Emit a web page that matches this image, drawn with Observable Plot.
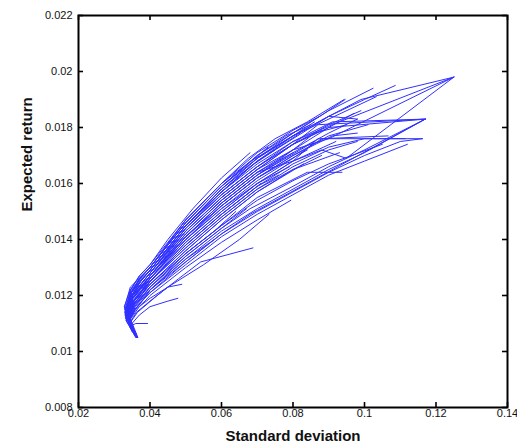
<!DOCTYPE html>
<html><head><meta charset="utf-8">
<script src="https://cdn.jsdelivr.net/npm/d3@7"></script>
<script src="https://cdn.jsdelivr.net/npm/@observablehq/plot@0.6"></script>
<style>body{margin:0;background:#fff}</style>
</head><body><div id="chart"></div>
<script>
const xTicks = [0.02, 0.04, 0.06, 0.08, 0.10, 0.12, 0.14];
const xTickLabels = ["0.02", "0.04", "0.06", "0.08", "0.1", "0.12", "0.14"];
const yTicks = [0.008, 0.010, 0.012, 0.014, 0.016, 0.018, 0.020, 0.022];
const yTickLabels = ["0.008", "0.01", "0.012", "0.014", "0.016", "0.018", "0.02", "0.022"];
const xLabel = "Standard deviation";
const yLabel = "Expected return";

// frontiers: [standard deviation, expected return]
const f01 = [[0.0352,0.0107],[0.0328,0.0116],[0.0345,0.0122],[0.0370,0.0127],[0.040,0.0131],[0.045,0.0140],[0.052,0.0151],[0.060,0.0162],[0.068,0.0171]];
const f02 = [[0.0356,0.0106],[0.0330,0.0115],[0.0346,0.0121],[0.0370,0.0126],[0.040,0.0130],[0.050,0.0147],[0.060,0.0160],[0.0675,0.0169],[0.075,0.0176],[0.084,0.0182],[0.0943,0.0190]];
const f03 = [[0.0360,0.0105],[0.0331,0.0112],[0.0347,0.0121],[0.0372,0.0126],[0.040,0.0130],[0.050,0.0146],[0.060,0.0159],[0.070,0.0170],[0.080,0.0178],[0.090,0.0186],[0.1024,0.0194]];
const f04 = [[0.0350,0.0108],[0.0329,0.0114],[0.0348,0.0121],[0.0372,0.0125],[0.040,0.0129],[0.050,0.0145],[0.060,0.0158],[0.070,0.0169],[0.080,0.0177],[0.090,0.0184],[0.100,0.0190],[0.1086,0.0195]];
const f05 = [[0.0362,0.0105],[0.0334,0.0111],[0.0348,0.0120],[0.0373,0.0125],[0.040,0.0129],[0.050,0.0145],[0.060,0.0157],[0.070,0.0168],[0.080,0.0176],[0.090,0.0184],[0.099,0.0190],[0.125,0.0198]];
const f06 = [[0.0348,0.0108],[0.0332,0.0115],[0.0349,0.0120],[0.0374,0.0124],[0.040,0.0128],[0.050,0.0144],[0.060,0.0156],[0.070,0.0166],[0.080,0.0175],[0.091,0.0181],[0.125,0.0198]];
const f07 = [[0.0358,0.0106],[0.0336,0.0114],[0.0350,0.0120],[0.0375,0.0124],[0.040,0.0128],[0.050,0.0143],[0.060,0.0155],[0.070,0.0165],[0.080,0.0172],[0.090,0.0176],[0.125,0.0198]];
const f08 = [[0.0352,0.0107],[0.0333,0.0111],[0.0350,0.0119],[0.0376,0.0123],[0.040,0.0127],[0.050,0.0142],[0.060,0.0154],[0.070,0.0164],[0.080,0.0168],[0.088,0.0172],[0.0949,0.0169],[0.125,0.0198]];
const f09 = [[0.0365,0.0105],[0.0337,0.0113],[0.0351,0.0119],[0.0376,0.0123],[0.040,0.0127],[0.050,0.0141],[0.060,0.0153],[0.070,0.0163],[0.080,0.0171],[0.090,0.0178],[0.098,0.0183]];
const f10 = [[0.0350,0.0108],[0.0334,0.0116],[0.0351,0.0120],[0.0377,0.0123],[0.040,0.0127],[0.050,0.0143],[0.060,0.0155],[0.070,0.0165],[0.080,0.0174],[0.087,0.0181],[0.117,0.0183]];
const f11 = [[0.0355,0.0107],[0.0335,0.0113],[0.0350,0.0120],[0.0374,0.0125],[0.040,0.0129],[0.050,0.0144],[0.060,0.0157],[0.070,0.0167],[0.080,0.0175],[0.091,0.0182],[0.117,0.0183]];
const f12 = [[0.0360,0.0106],[0.0337,0.0112],[0.0352,0.0118],[0.0378,0.0122],[0.040,0.0126],[0.050,0.0140],[0.060,0.0151],[0.070,0.0161],[0.080,0.0169],[0.088,0.0176],[0.1066,0.0177]];
const f13 = [[0.0354,0.0107],[0.0336,0.0114],[0.0352,0.0119],[0.0378,0.0122],[0.040,0.0126],[0.050,0.0139],[0.060,0.0150],[0.070,0.0160],[0.080,0.0168],[0.087,0.0176],[0.1162,0.0176]];
const f14 = [[0.0362,0.0106],[0.0338,0.0112],[0.0353,0.0118],[0.0380,0.0122],[0.040,0.0125],[0.050,0.0138],[0.060,0.0149],[0.070,0.0159],[0.080,0.0167],[0.090,0.0173],[0.100,0.0176],[0.1114,0.0176]];
const f15 = [[0.0350,0.0108],[0.0339,0.0114],[0.0354,0.0118],[0.0380,0.0121],[0.040,0.0125],[0.050,0.0137],[0.060,0.0148],[0.070,0.0158],[0.080,0.0166],[0.090,0.0172],[0.098,0.0175]];
const f16 = [[0.0358,0.0106],[0.0339,0.0111],[0.0355,0.0117],[0.0381,0.0121],[0.040,0.0124],[0.050,0.0136],[0.060,0.0147],[0.070,0.0157],[0.080,0.0165],[0.088,0.0170]];
const f17 = [[0.0364,0.0105],[0.0340,0.0111],[0.0356,0.0116],[0.0382,0.0120],[0.040,0.0123],[0.050,0.0134],[0.060,0.0144],[0.068,0.0151],[0.080,0.0159],[0.090,0.0166],[0.100,0.0172],[0.117,0.0183]];
const f18 = [[0.0352,0.0108],[0.0341,0.0113],[0.0357,0.0117],[0.0383,0.0120],[0.040,0.0122],[0.050,0.0133],[0.060,0.0143],[0.070,0.0151],[0.080,0.0158],[0.090,0.0165],[0.100,0.0171],[0.117,0.0183]];
const f19 = [[0.0360,0.0106],[0.0341,0.0111],[0.0358,0.0115],[0.0384,0.0119],[0.040,0.0122],[0.050,0.0132],[0.060,0.0142],[0.070,0.0150],[0.080,0.0157],[0.090,0.0164],[0.100,0.0170],[0.110,0.0175],[0.1162,0.0176]];
const f20 = [[0.0356,0.0107],[0.0342,0.0112],[0.0358,0.0115],[0.0385,0.0119],[0.040,0.0121],[0.050,0.0131],[0.060,0.0141],[0.070,0.0149],[0.080,0.0156],[0.090,0.0163],[0.100,0.0168],[0.112,0.0174]];
const f21 = [[0.0350,0.0108],[0.0339,0.0112],[0.0355,0.0117],[0.0381,0.0121],[0.040,0.0124],[0.050,0.0135],[0.060,0.0145],[0.070,0.0155],[0.084,0.0164],[0.0937,0.0164]];
const f22 = [[0.0362,0.0106],[0.0342,0.0111],[0.0360,0.0115],[0.0386,0.0118],[0.040,0.0120],[0.050,0.0130],[0.060,0.0139],[0.070,0.0147],[0.0794,0.0154]];
const f23 = [[0.0356,0.0107],[0.0342,0.0110],[0.0362,0.0114],[0.040,0.0118],[0.045,0.0123],[0.055,0.0131],[0.065,0.0140],[0.0733,0.0149]];
const f24 = [[0.0360,0.0106],[0.0343,0.0110],[0.0365,0.0114],[0.042,0.0120],[0.048,0.0126],[0.0542,0.0132],[0.0688,0.0137]];
const f25 = [[0.0362,0.0105],[0.0343,0.0109],[0.0370,0.0113],[0.040,0.0116],[0.045,0.0118],[0.0478,0.0119]];
const f26 = [[0.0358,0.0107],[0.0342,0.0111],[0.0370,0.0116],[0.040,0.0119],[0.045,0.0123],[0.0489,0.0124]];
const f27 = [[0.0350,0.0107],[0.0343,0.0109],[0.0360,0.0110],[0.0393,0.0110]];
const f28 = [[0.0354,0.0107],[0.0330,0.0113],[0.0347,0.0121],[0.0372,0.0126],[0.040,0.0130],[0.050,0.0146],[0.060,0.0159],[0.070,0.0170],[0.078,0.0177],[0.085,0.0181]];
const f29 = [[0.0364,0.0105],[0.0333,0.0113],[0.0348,0.0121],[0.0372,0.0125],[0.040,0.0129],[0.050,0.0145],[0.060,0.0158],[0.070,0.0169],[0.080,0.0177],[0.090,0.0184],[0.098,0.0183]];
const f30 = [[0.0357,0.0106],[0.0334,0.0113],[0.0349,0.0120],[0.0374,0.0124],[0.040,0.0128],[0.050,0.0144],[0.060,0.0156],[0.070,0.0166],[0.080,0.0174],[0.088,0.0179]];
const f31 = [[0.0351,0.0108],[0.0336,0.0112],[0.0351,0.0119],[0.0377,0.0123],[0.040,0.0126],[0.050,0.0140],[0.060,0.0152],[0.070,0.0162],[0.084,0.0172]];
const f32 = [[0.0350,0.0108],[0.0332,0.0113],[0.0346,0.0121],[0.0371,0.0126],[0.040,0.0130],[0.050,0.0147],[0.060,0.0160],[0.0682,0.0168],[0.080,0.0177],[0.1033,0.0191]];
const f33 = [[0.0360,0.0106],[0.0338,0.0112],[0.0353,0.0118],[0.0380,0.0122],[0.040,0.0125],[0.050,0.0138],[0.060,0.0149],[0.070,0.0159],[0.076,0.0163]];
const f34 = [[0.0363,0.0105],[0.0336,0.0112],[0.0351,0.0119],[0.0377,0.0123],[0.040,0.0126],[0.050,0.0141],[0.060,0.0152],[0.070,0.0162],[0.080,0.0170],[0.091,0.0177],[0.098,0.0178]];
const f35 = [[0.0357,0.0106],[0.0332,0.0113],[0.0346,0.0122],[0.0371,0.0127],[0.040,0.0131],[0.050,0.0147],[0.060,0.0160],[0.070,0.0171],[0.080,0.0179],[0.0875,0.0184]];
const f36 = [[0.0353,0.0107],[0.0339,0.0111],[0.0355,0.0117],[0.0381,0.0121],[0.040,0.0124],[0.050,0.0136],[0.060,0.0147],[0.070,0.0157],[0.083,0.0167]];
const f37 = [[0.0361,0.0106],[0.0340,0.0111],[0.0356,0.0116],[0.0382,0.0120],[0.040,0.0123],[0.050,0.0135],[0.058,0.0143],[0.064,0.0150]];
const f38 = [[0.0355,0.0107],[0.0341,0.0111],[0.0357,0.0115],[0.0384,0.0119],[0.040,0.0122],[0.050,0.0133],[0.058,0.0140]];
const f39 = [[0.0359,0.0106],[0.0335,0.0112],[0.0350,0.0119],[0.0376,0.0123],[0.040,0.0127],[0.050,0.0142],[0.060,0.0154],[0.070,0.0164],[0.080,0.0172],[0.086,0.0178],[0.095,0.0181]];
const f40 = [[0.0349,0.0108],[0.0333,0.0113],[0.0347,0.0121],[0.0372,0.0126],[0.040,0.0130],[0.050,0.0146],[0.060,0.0159],[0.070,0.0169],[0.080,0.0178],[0.0887,0.0185],[0.0946,0.0190]];
const f41 = [[0.0364,0.0105],[0.0337,0.0112],[0.0352,0.0118],[0.0378,0.0122],[0.040,0.0126],[0.050,0.0140],[0.060,0.0151],[0.070,0.0160],[0.079,0.0166]];
const f42 = [[0.0351,0.0108],[0.0334,0.0113],[0.0348,0.0120],[0.0373,0.0125],[0.040,0.0129],[0.050,0.0145],[0.060,0.0157],[0.068,0.0166],[0.075,0.0172]];
const f43 = [[0.0356,0.0107],[0.0336,0.0112],[0.0351,0.0119],[0.0376,0.0123],[0.040,0.0127],[0.050,0.0141],[0.060,0.0153],[0.070,0.0163],[0.080,0.0172],[0.090,0.0180],[0.117,0.0183]];
const f44 = [[0.0359,0.0106],[0.0338,0.0112],[0.0354,0.0117],[0.0380,0.0121],[0.040,0.0125],[0.050,0.0137],[0.060,0.0148],[0.070,0.0158],[0.080,0.0165],[0.093,0.0171]];
const f45 = [[0.0357,0.0106],[0.0341,0.0111],[0.0358,0.0115],[0.0384,0.0119],[0.040,0.0121],[0.050,0.0132],[0.060,0.0142],[0.068,0.0149],[0.117,0.0183]];
const f46 = [[0.0361,0.0106],[0.0330,0.0115],[0.0346,0.0122],[0.040,0.0129],[0.050,0.0145],[0.060,0.0158],[0.070,0.0168],[0.082,0.0178]];
const f47 = [[0.0353,0.0107],[0.0332,0.0114],[0.0349,0.0120],[0.040,0.0128],[0.050,0.0144],[0.060,0.0156],[0.070,0.0166],[0.080,0.0174],[0.090,0.0180],[0.097,0.0185]];
const f48 = [[0.0366,0.0105],[0.0335,0.0115],[0.0352,0.0120],[0.040,0.0127],[0.050,0.0142],[0.060,0.0154],[0.070,0.0164],[0.080,0.0171]];
const f49 = [[0.0354,0.0107],[0.0338,0.0113],[0.0356,0.0118],[0.040,0.0125],[0.050,0.0139],[0.060,0.0150],[0.070,0.0160],[0.080,0.0168],[0.092,0.0175]];
const f50 = [[0.0350,0.0108],[0.0329,0.0116],[0.0345,0.0123],[0.040,0.0130],[0.050,0.0146],[0.060,0.0159],[0.073,0.0173]];
const f51 = [[0.0357,0.0106],[0.0336,0.0114],[0.0353,0.0119],[0.040,0.0126],[0.050,0.0141],[0.060,0.0152],[0.070,0.0162],[0.080,0.0170],[0.090,0.0177],[0.101,0.0181]];
const f52 = [[0.0362,0.0105],[0.0340,0.0112],[0.0358,0.0117],[0.040,0.0123],[0.050,0.0135],[0.060,0.0145],[0.070,0.0154],[0.080,0.0161],[0.090,0.0167],[0.105,0.0174]];
const f53 = [[0.0358,0.0106],[0.0331,0.0114],[0.0347,0.0121],[0.040,0.0129],[0.050,0.0145],[0.060,0.0157],[0.070,0.0168],[0.080,0.0177],[0.086,0.0182]];
const f54 = [[0.0351,0.0108],[0.0339,0.0113],[0.0356,0.0118],[0.040,0.0125],[0.050,0.0138],[0.060,0.0149],[0.071,0.0160]];
const f55 = [[0.0363,0.0105],[0.0334,0.0114],[0.0350,0.0120],[0.040,0.0128],[0.050,0.0143],[0.060,0.0155],[0.070,0.0165],[0.080,0.0174],[0.090,0.0181],[0.099,0.0186]];
const f56 = [[0.0357,0.0106],[0.0341,0.0111],[0.0359,0.0116],[0.040,0.0122],[0.050,0.0134],[0.060,0.0144],[0.067,0.0151]];
const f57 = [[0.0352,0.0107],[0.0336,0.0115],[0.0353,0.0120],[0.040,0.0127],[0.050,0.0141],[0.060,0.0153],[0.070,0.0163],[0.086,0.0175]];

const frontiers = [f01,f02,f03,f04,f05,f06,f07,f08,f09,f10,f11,f12,f13,f14,f15,f16,f17,f18,f19,f20,
  f21,f22,f23,f24,f25,f26,f27,f28,f29,f30,f31,f32,f33,f34,f35,f36,f37,f38,f39,f40,
  f41,f42,f43,f44,f45,f46,f47,f48,f49,f50,f51,f52,f53,f54,f55,f56,f57];
const rows = frontiers.flatMap((f, i) => f.map(([sd, ret]) => ({id: i, sd, ret})));

const W = 517, H = 448, mL = 78, mR = 10, mT = 15, mB = 41;
const innerW = W - mL - mR, innerH = H - mT - mB;
const tickLen = 5;

const chart = Plot.plot({
  width: W, height: H,
  marginLeft: mL, marginRight: mR, marginTop: mT, marginBottom: mB,
  style: {fontFamily: "'Liberation Sans', Arial, sans-serif", background: "white", color: "black", fontSize: "11px"},
  x: {domain: [0.02, 0.14]},
  y: {domain: [0.008, 0.022]},
  marks: [
    Plot.line(rows, {x: "sd", y: "ret", z: "id", stroke: "#3030ff", strokeWidth: 1}),
    Plot.ruleX(xTicks, {x: d => d, insetTop: innerH - tickLen, stroke: "black", strokeWidth: 1.6}),
    Plot.ruleX(xTicks, {x: d => d, insetBottom: innerH - tickLen, stroke: "black", strokeWidth: 1.6}),
    Plot.ruleY(yTicks, {y: d => d, insetRight: innerW - tickLen, stroke: "black", strokeWidth: 1.6}),
    Plot.ruleY(yTicks, {y: d => d, insetLeft: innerW - tickLen, stroke: "black", strokeWidth: 1.6}),
    Plot.frame({stroke: "black", strokeWidth: 2}),
    Plot.axisX(xTicks, {tickSize: 0, tickPadding: 2, fontSize: 11, fill: "#111",
      tickFormat: d => xTickLabels[xTicks.indexOf(d)], label: null}),
    Plot.axisY(yTicks, {tickSize: 0, tickPadding: 6, fontSize: 11, fill: "#111",
      tickFormat: d => yTickLabels[yTicks.indexOf(d)], label: null}),
    Plot.text([xLabel], {text: d => d, frameAnchor: "bottom", dy: 33, fontSize: 15, fontWeight: "bold", fill: "#111"}),
    Plot.text([yLabel], {text: d => d, frameAnchor: "left", dx: -51, rotate: -90, fontSize: 15, fontWeight: "bold", fill: "#111"})
  ]
});
document.getElementById("chart").appendChild(chart);
</script>
</body></html>
